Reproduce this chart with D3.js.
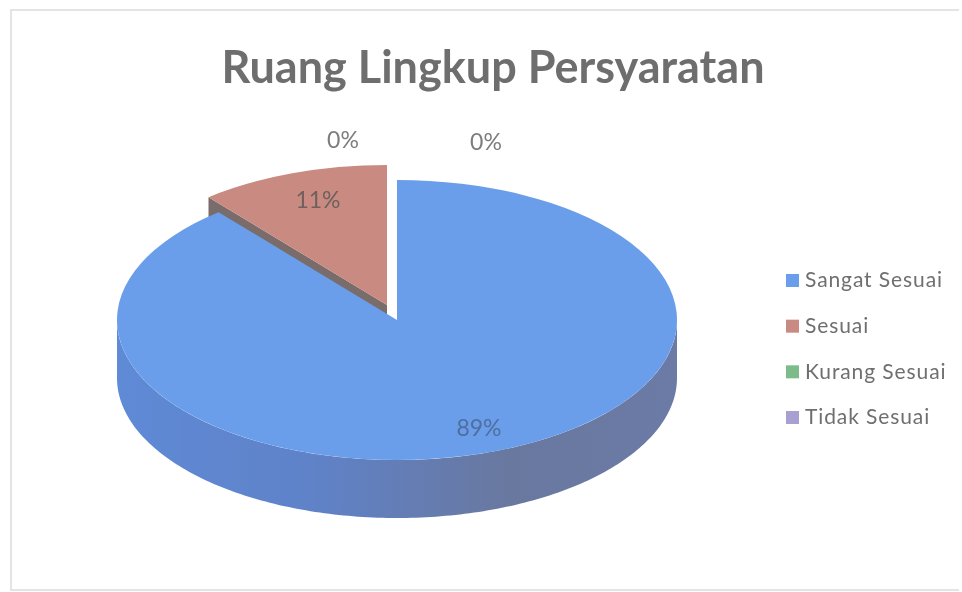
<!DOCTYPE html>
<html>
<head>
<meta charset="utf-8">
<script src="https://cdn.jsdelivr.net/npm/d3@7"></script>
<style>
    html, body { margin: 0; padding: 0; background: #fff; }
    text { font-family: Lato, "Open Sans", sans-serif; }
</style>
</head>
<body>
<div id="chart"></div>
<script>
// chart data
const categories = ["Sangat Sesuai", "Sesuai", "Kurang Sesuai", "Tidak Sesuai"];
const values = [89, 11, 0, 0];
const sliceColors = ["#6a9eea", "#c98a82", "#7dbb8a", "#a8a0d0"];
const chartTitle = "Ruang Lingkup Persyaratan";

const width = 962, height = 592;
const cx = 397, cy = 320;      // centre of the blue slice top
const rx = 280, ry = 140;      // ellipse of the tilted pie
const depth = 58;
const explode = [[0, 0], [-10, -15], [0, 0], [0, 0]];

const svg = d3.select("#chart").append("svg")
    .attr("width", width)
    .attr("height", height)
    .style("display", "block")
    .style("filter", "blur(0.5px)");

// scanned page frame, only left, top and bottom edges show
svg.append("path")
    .attr("d", "M959,10H11V590H959")
    .attr("fill", "none")
    .attr("stroke", "#dcdcdc")
    .attr("stroke-width", 1.5);

svg.append("text")
    .attr("x", 493)
    .attr("y", 83)
    .attr("text-anchor", "middle")
    .attr("font-size", 45)
    .attr("font-weight", 700)
    .attr("fill", "#6e6e6e")
    .text(chartTitle);

const defs = svg.append("defs");
const wallGrad = defs.append("linearGradient")
    .attr("id", "wall")
    .attr("x1", 0).attr("x2", 1).attr("y1", 0).attr("y2", 0);
wallGrad.append("stop").attr("offset", "0%").attr("stop-color", "#5f8ad6");
wallGrad.append("stop").attr("offset", "35%").attr("stop-color", "#5f82c8");
wallGrad.append("stop").attr("offset", "70%").attr("stop-color", "#69789f");
wallGrad.append("stop").attr("offset", "100%").attr("stop-color", "#6b7ba6");

const pie = d3.pie().sort(null);
const slices = pie(values);

// arc drawn as a circle of radius rx, squashed into the ellipse
const arc = d3.arc().innerRadius(0).outerRadius(rx);
const squash = ry / rx;

// point on the rim for an angle measured clockwise from the top
const rimX = a => Math.sin(a) * rx;
const rimY = a => -Math.cos(a) * ry;

// outer wall of the blue slice, front half of the rim only
const frontAngles = d3.range(0, 181).map(i => Math.PI / 2 + i * Math.PI / 180);
const wall = d3.area()
    .x(a => cx + rimX(a))
    .y0(a => cy + rimY(a))
    .y1(a => cy + rimY(a) + depth);

svg.append("path")
    .attr("d", wall(frontAngles))
    .attr("fill", "url(#wall)");

// cut face of the red slice, mostly hidden behind the blue top
const red = slices[1];
const [rdx, rdy] = explode[1];
svg.append("path")
    .attr("d", d3.line()([
        [cx + rdx + rimX(red.startAngle), cy + rdy + rimY(red.startAngle)],
        [cx + rdx, cy + rdy],
        [cx + rdx, cy + rdy + depth],
        [cx + rdx + rimX(red.startAngle), cy + rdy + rimY(red.startAngle) + depth]
    ]) + "Z")
    .attr("fill", "#7b6c6c");

// slice tops
svg.append("g")
    .selectAll("path")
    .data(slices.filter(d => d.value > 0).reverse())
    .join("path")
    .attr("d", arc)
    .attr("transform", d => `translate(${cx + explode[d.index][0]},${cy + explode[d.index][1]}) scale(1,${squash})`)
    .attr("fill", d => sliceColors[d.index]);

// data labels
const labelPos = [[479, 428], [318, 200], [343, 140], [486, 142]];
svg.append("g")
    .selectAll("text")
    .data(values)
    .join("text")
    .attr("x", (d, i) => labelPos[i][0])
    .attr("y", (d, i) => labelPos[i][1])
    .attr("dy", "0.35em")
    .attr("text-anchor", "middle")
    .attr("font-size", 23)
    .attr("fill", (d, i) => i === 0 ? "#4f6f9f" : i === 1 ? "#70605c" : "#7d7d7d")
    .text(d => d + "%");

// legend
const legendY = d3.scalePoint().domain(categories).range([280, 417]);
const legend = svg.append("g")
    .selectAll("g")
    .data(categories)
    .join("g")
    .attr("transform", d => `translate(786,${legendY(d)})`);

legend.append("rect")
    .attr("x", 0)
    .attr("y", -6)
    .attr("width", 13)
    .attr("height", 13)
    .attr("fill", (d, i) => sliceColors[i]);

legend.append("text")
    .attr("x", 19)
    .attr("dy", "0.35em")
    .attr("font-size", 21)
    .attr("letter-spacing", 0.9)
    .attr("fill", "#6f6f6f")
    .text(d => d);
</script>
</body>
</html>
